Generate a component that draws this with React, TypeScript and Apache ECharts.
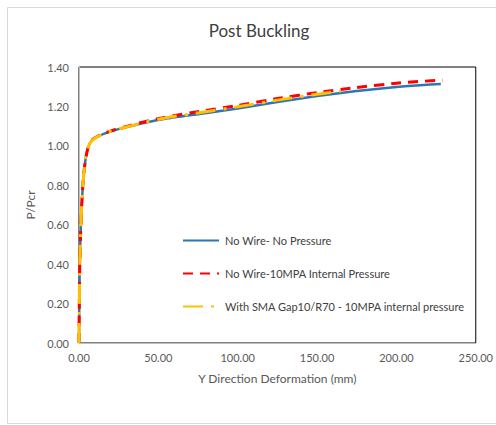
import React, { useEffect, useRef } from "react";
import * as echarts from "echarts";

const xTicks = [0, 50, 100, 150, 200, 250];
const yTicks = [0, 0.2, 0.4, 0.6, 0.8, 1.0, 1.2, 1.4];

const blueX = [0, 0.2, 0.5, 1, 1.6, 2.4, 3.3, 4.3, 5.5, 7, 9, 12, 16, 22, 30, 40, 56, 76, 100, 125, 150, 175, 200, 215, 228];
const blueY = [0, 0.2, 0.4, 0.55, 0.68, 0.8, 0.88, 0.94, 0.985, 1.015, 1.033, 1.048, 1.062, 1.078, 1.095, 1.115, 1.14, 1.162, 1.19, 1.223, 1.253, 1.278, 1.298, 1.308, 1.314];

const redX = [0, 0.2, 0.5, 1, 1.6, 2.4, 3.3, 4.3, 5.5, 7, 9, 12, 16, 22, 30, 40, 56, 76, 100, 125, 150, 175, 200, 215, 229];
const redY = [0, 0.2, 0.4, 0.55, 0.68, 0.8, 0.88, 0.94, 0.985, 1.017, 1.035, 1.05, 1.065, 1.081, 1.098, 1.12, 1.148, 1.175, 1.205, 1.24, 1.27, 1.296, 1.318, 1.327, 1.333];

const yellowX = [0, 0.2, 0.5, 1, 1.6, 2.4, 3.3, 4.3, 5.5, 7, 9, 12, 16, 22, 30, 40, 56, 76, 100, 125, 150, 165];
const yellowY = [0, 0.2, 0.4, 0.55, 0.68, 0.8, 0.88, 0.94, 0.985, 1.015, 1.033, 1.048, 1.063, 1.08, 1.096, 1.117, 1.144, 1.168, 1.198, 1.232, 1.262, 1.278];

const seriesNames = [
  "No Wire- No Pressure",
  "No Wire-10MPA Internal Pressure",
  "With SMA Gap10/R70 - 10MPA internal pressure",
];

const zip = (xs: number[], ys: number[]) => xs.map((x, i) => [x, ys[i]]);

export default function App() {
  const ref = useRef<HTMLDivElement>(null);
  useEffect(() => {
    const chart = echarts.init(ref.current!, null, { renderer: "svg" });
    const font = "Lato, 'Open Sans', sans-serif";
    chart.setOption({
      animation: false,
      backgroundColor: "#fff",
      textStyle: { fontFamily: font },
      title: {
        text: "Post Buckling",
        left: 254,
        top: 17,
        textAlign: "center",
        textStyle: { fontFamily: font, fontSize: 17, fontWeight: "normal", color: "#404040" },
      },
      graphic: [
        {
          type: "rect",
          shape: { x: 7.5, y: 7.5, width: 495, height: 416 },
          style: { fill: "none", stroke: "#d9d9d9", lineWidth: 1 },
          silent: true,
        },
      ],
      grid: {
        left: 79,
        top: 67,
        right: 19,
        bottom: 82,
        show: true,
        borderColor: "#000",
        borderWidth: 1,
      },
      legend: {
        orient: "vertical",
        left: 177,
        top: 230,
        itemGap: 22,
        itemWidth: 36,
        itemHeight: 12,
        itemStyle: { opacity: 0 },
        textStyle: { fontFamily: font, fontSize: 11, color: "#404040", padding: [0, 0, 0, 1] },
        data: seriesNames,
      },
      xAxis: {
        type: "value",
        min: 0,
        max: 250,
        interval: 50,
        name: "Y Direction Deformation (mm)",
        nameLocation: "middle",
        nameGap: 29,
        nameTextStyle: { fontFamily: font, fontSize: 12, color: "#595959" },
        axisLine: { show: true, lineStyle: { color: "#bfbfbf", width: 1 } },
        axisTick: { show: false },
        splitLine: { show: false },
        axisLabel: {
          color: "#595959",
          fontSize: 11,
          fontFamily: font,
          margin: 9,
          formatter: (v: number) => v.toFixed(2),
        },
      },
      yAxis: {
        type: "value",
        min: 0,
        max: 1.4,
        interval: 0.2,
        name: "P/Pcr",
        nameLocation: "middle",
        nameGap: 38,
        nameRotate: 90,
        nameTextStyle: { fontFamily: font, fontSize: 12, color: "#595959" },
        axisLine: { show: true, lineStyle: { color: "#bfbfbf", width: 1 } },
        axisTick: { show: false },
        splitLine: { show: false },
        axisLabel: {
          color: "#595959",
          fontSize: 11,
          fontFamily: font,
          margin: 10,
          formatter: (v: number) => v.toFixed(2),
        },
      },
      series: [
        {
          name: seriesNames[0],
          type: "line",
          data: zip(blueX, blueY),
          symbol: "none",
          smooth: 0.15,
          lineStyle: { color: "#2E75B6", width: 2.5 },
          itemStyle: { color: "#2E75B6" },
          z: 2,
        },
        {
          name: seriesNames[1],
          type: "line",
          data: zip(redX, redY),
          symbol: "none",
          smooth: 0.15,
          lineStyle: { color: "#FF0000", width: 3, type: [10, 7] },
          itemStyle: { color: "#FF0000" },
          z: 3,
        },
        {
          name: seriesNames[2],
          type: "line",
          data: zip(yellowX, yellowY),
          symbol: "none",
          smooth: 0.15,
          lineStyle: { color: "#FFC000", width: 3, type: [20, 8, 3, 8] },
          itemStyle: { color: "#FFC000" },
          z: 4,
        },
      ],
    });
    return () => chart.dispose();
  }, []);
  return (
    <div
      ref={ref}
      style={{ position: "fixed", left: 0, top: 0, width: 496, height: 425 }}
    />
  );
}
